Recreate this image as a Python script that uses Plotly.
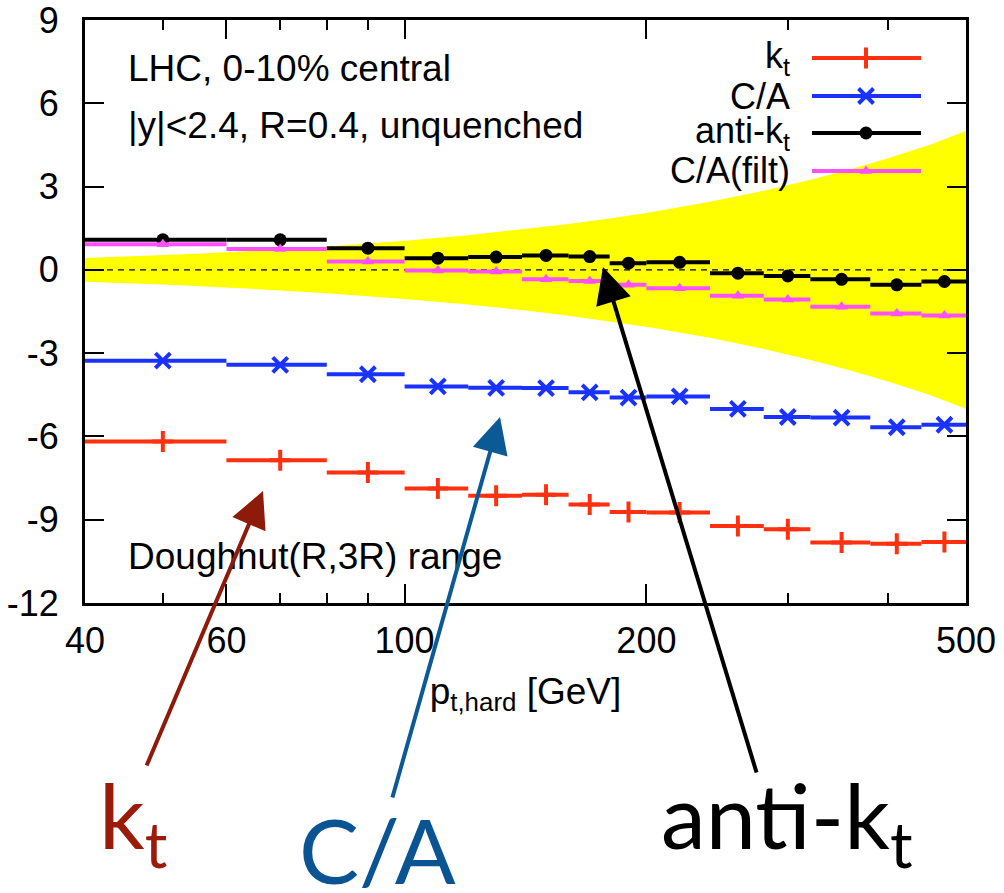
import math
import plotly.graph_objects as go

# ---------------- data ----------------
bin_lo = [40, 60, 80, 100, 120, 140, 160, 180, 200, 240, 280, 320, 380, 440]
bin_hi = [60, 80, 100, 120, 140, 160, 180, 200, 240, 280, 320, 380, 440, 500]
bin_mid = [50, 70, 90, 110, 130, 150, 170, 190, 220, 260, 300, 350, 410, 470]

kt = [-6.18, -6.86, -7.30, -7.88, -8.14, -8.10, -8.45, -8.72, -8.74, -9.23, -9.34, -9.82, -9.87, -9.80]
ca = [-3.27, -3.42, -3.76, -4.20, -4.25, -4.26, -4.41, -4.60, -4.56, -5.01, -5.30, -5.32, -5.67, -5.58]
antikt = [1.08, 1.08, 0.78, 0.42, 0.46, 0.52, 0.48, 0.24, 0.27, -0.12, -0.22, -0.34, -0.54, -0.42]
cafilt = [0.92, 0.75, 0.30, -0.02, -0.06, -0.34, -0.40, -0.54, -0.66, -0.93, -1.07, -1.33, -1.57, -1.64]

band_pt = [40, 45, 50, 55, 60, 70, 80, 90, 100, 120, 140, 160, 180, 200, 240, 280, 320, 360, 400, 450, 500]
band_hi = [0.43, 0.48, 0.53, 0.58, 0.63, 0.74, 0.84, 0.95, 1.05, 1.25, 1.45, 1.65, 1.85, 2.05, 2.45, 2.85, 3.25, 3.63, 4.02, 4.5, 5.0]
band_lo = [-v for v in band_hi]

x_ticks = [40, 60, 100, 200, 500]
x_minor = [50, 70, 80, 90, 300, 400]
y_ticks = [-12, -9, -6, -3, 0, 3, 6, 9]

series = [
    ("k<sub>t</sub>", kt, "#ff3010", dict(symbol="cross-thin", size=15, line=dict(width=4, color="#ff3010"))),
    ("C/A", ca, "#1a32ff", dict(symbol="x-thin", size=15, line=dict(width=4, color="#1a32ff"))),
    ("anti-k<sub>t</sub>", antikt, "#000000", dict(symbol="circle", size=13, color="#000000")),
    ("C/A(filt)", cafilt, "#ff50ff", dict(symbol="triangle-up", size=11, color="#ff50ff")),
]

FONT = "Liberation Sans, Arial, Helvetica, sans-serif"
BIGFONT = "Lato, Open Sans, sans-serif"

W, H = 1004, 893
PX_L, PX_R, PX_T, PX_B = 85, 966, 20, 603


def px(xp, yp):
    """pixel position -> paper coordinates"""
    return (xp - PX_L) / (PX_R - PX_L), (PX_B - yp) / (PX_B - PX_T)


fig = go.Figure()

# yellow band
fig.add_trace(go.Scatter(
    x=band_pt + band_pt[::-1], y=band_hi + band_lo[::-1],
    fill="toself", fillcolor="#ffff00", mode="lines", line=dict(width=0, color="#ffff00"),
    hoverinfo="skip", showlegend=False))

# zero dashed line
fig.add_trace(go.Scatter(x=[bin_lo[0], bin_hi[-1]], y=[0, 0], mode="lines",
                         line=dict(color="black", width=1.3, dash="6px,5px"),
                         hoverinfo="skip", showlegend=False))

for name, vals, col, mk in series:
    xs, ys = [], []
    for lo, hi, v in zip(bin_lo, bin_hi, vals):
        xs += [lo, hi, None]
        ys += [v, v, None]
    fig.add_trace(go.Scatter(x=xs, y=ys, mode="lines", line=dict(color=col, width=4),
                             showlegend=False, hoverinfo="skip"))
    fig.add_trace(go.Scatter(x=bin_mid, y=vals, mode="markers", marker=mk,
                             name=name, showlegend=False))

# custom gnuplot-style legend (text left, sample right) on a pixel overlay axis
leg_y = [58, 96, 133, 171]
for (name, vals, col, mk), ly in zip(series, leg_y):
    fig.add_trace(go.Scatter(x=[812, 921], y=[ly, ly], xaxis="x2", yaxis="y2", mode="lines",
                             line=dict(color=col, width=4), showlegend=False, hoverinfo="skip"))
    fig.add_trace(go.Scatter(x=[866], y=[ly], xaxis="x2", yaxis="y2", mode="markers",
                             marker=mk, showlegend=False, hoverinfo="skip"))

annotations = []
for (name, vals, col, mk), ly in zip(series, leg_y):
    ax_, ay_ = px(792, ly)
    annotations.append(dict(x=ax_, y=ay_, xref="paper", yref="paper", text=name, showarrow=False,
                            xanchor="right", yanchor="middle",
                            font=dict(family=FONT, size=36, color="black")))

for txt, ty in [("LHC, 0-10% central", 46), ("|y|<2.4, R=0.4, unquenched", 103),
                ("Doughnut(R,3R) range", 534)]:
    ax_, ay_ = px(126, ty)
    annotations.append(dict(x=ax_, y=ay_, xref="paper", yref="paper", text=txt, showarrow=False,
                            xanchor="left", yanchor="top",
                            font=dict(family=FONT, size=37, color="black")))

# arrows (pixel overlay axis)
for (hx, hy, tx, ty, col) in [(263, 491, 146, 767, "#8e1a0a"),
                               (500, 417, 392, 799, "#0b5a96"),
                               (603, 267, 757, 774, "#000000")]:
    annotations.append(dict(x=hx, y=hy, xref="x2", yref="y2", ax=tx, ay=ty,
                            axref="x2", ayref="y2", text="", showarrow=True,
                            arrowhead=2, arrowsize=1.8, arrowwidth=4, arrowcolor=col))

# big labels under the chart
for txt, lx, ty, col in [("k<sub>t</sub>", 97, 758, "#9b1a0a"),
                          ("C/A", 297, 793, "#0b5494"),
                          ("anti-k<sub>t</sub>", 659, 758, "#000000")]:
    ax_, ay_ = px(lx, ty)
    annotations.append(dict(x=ax_, y=ay_, xref="paper", yref="paper", text=txt, showarrow=False,
                            xanchor="left", yanchor="top",
                            font=dict(family=BIGFONT, size=90, color=col)))

fig.update_layout(
    width=W, height=H,
    margin=dict(l=PX_L, r=W - PX_R, t=PX_T, b=H - PX_B, autoexpand=False),
    paper_bgcolor="white", plot_bgcolor="white",
    showlegend=False,
    xaxis=dict(type="log", range=[math.log10(40), math.log10(500)], automargin=False,
               tickvals=x_ticks, ticktext=[str(v) for v in x_ticks],
               ticks="inside", ticklen=19, tickwidth=2, tickcolor="black",
               showline=True, linewidth=3, linecolor="black", mirror="allticks",
               showgrid=False, zeroline=False, ticklabeloverflow="allow",
               tickfont=dict(family=FONT, size=36, color="black"),
               ticklabelstandoff=4,
               minor=dict(tickvals=x_minor, ticks="inside", ticklen=10, tickwidth=2,
                          tickcolor="black", showgrid=False),
               title=dict(text="p<sub>t,hard</sub> [GeV]", standoff=18,
                          font=dict(family=FONT, size=37, color="black"))),
    yaxis=dict(range=[-12, 9], tickvals=y_ticks, ticktext=[str(v) for v in y_ticks],
               automargin=False,
               ticks="inside", ticklen=19, tickwidth=2, tickcolor="black",
               showline=True, linewidth=3, linecolor="black", mirror="allticks",
               showgrid=False, zeroline=False, ticklabelstandoff=16,
               ticklabeloverflow="allow",
               tickfont=dict(family=FONT, size=36, color="black")),
    xaxis2=dict(overlaying="x", range=[PX_L, PX_R], visible=False, automargin=False),
    yaxis2=dict(overlaying="y", range=[PX_B, PX_T], visible=False, automargin=False),
    annotations=annotations,
)

fig.write_html("out.html")
